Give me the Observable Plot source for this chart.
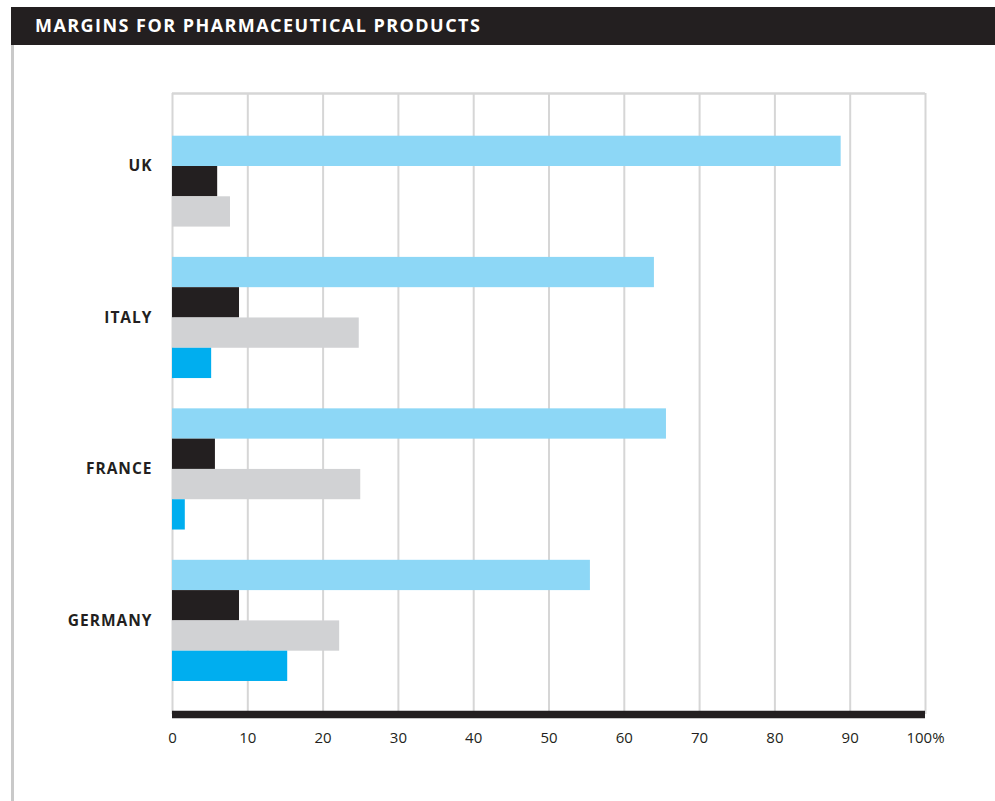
<!DOCTYPE html>
<html>
<head>
<meta charset="utf-8">
<script src="https://cdn.jsdelivr.net/npm/d3@7"></script>
<script src="https://cdn.jsdelivr.net/npm/@observablehq/plot@0.6"></script>
<style>
  html, body { margin: 0; padding: 0; background: #fff; }
  body { width: 995px; height: 801px; overflow: hidden; position: relative; font-family: "Open Sans", sans-serif; }
  #title {
    margin: 7px 0 0 11px; height: 38px; background: #231f20; color: #fff;
    font-family: "Open Sans", sans-serif; font-weight: 700; font-size: 18px; letter-spacing: 1.45px;
    line-height: 36px; padding-left: 24px; box-sizing: border-box; white-space: nowrap;
  }
  #chart { position: relative; width: 995px; height: 756px; }
  #leftline { position: absolute; left: 11px; top: 0; width: 3px; height: 756px; background: #c9c9c9; }
  #chart svg { position: absolute; left: 0; top: 0; }
  #chart svg .country-labels text { letter-spacing: 1px; }
</style>
</head>
<body>
<div id="title">MARGINS FOR PHARMACEUTICAL PRODUCTS</div>
<div id="chart"><div id="leftline"></div></div>
<script>
// ---- data ----
const countries = ["UK", "ITALY", "FRANCE", "GERMANY"];
const seriesNames = ["Series 1", "Series 2", "Series 3", "Series 4"];
const seriesColors = ["#8dd7f6", "#231f20", "#d1d2d4", "#00aeef"];
const series1 = [88.8, 64.0, 65.6, 55.5];
const series2 = [6.0, 8.9, 5.7, 8.9];
const series3 = [7.7, 24.8, 25.0, 22.2];
const series4 = [null, 5.2, 1.7, 15.3];
const xTicks = [0, 10, 20, 30, 40, 50, 60, 70, 80, 90, 100];

// ---- build rows: one slot per bar, one empty slot between countries ----
const allSeries = [series1, series2, series3, series4];
const rows = [];
const labels = [];
let slot = 0;
countries.forEach((c, i) => {
  allSeries.forEach((s, j) => {
    if (s[i] != null) {
      rows.push({country: c, series: seriesNames[j], value: s[i], slot});
      slot++;
    }
  });
  labels.push({country: c, pos: slot - 2});
  slot++;
});
const totalSlots = slot - 1;
const yTop = -1.41, yBottom = totalSlots + 1.09;

const chart = Plot.plot({
  width: 995,
  height: 756,
  marginLeft: 172,
  marginRight: 70,
  marginTop: 48,
  marginBottom: 87,
  style: {background: "transparent", fontFamily: "Open Sans, sans-serif"},
  x: {domain: [0, 100], axis: null, label: null},
  y: {domain: [yTop, yBottom], reverse: true, axis: null, label: null},
  color: {domain: seriesNames, range: seriesColors},
  marks: [
    Plot.ruleX(xTicks, {x: d => d, y1: yTop, y2: yBottom, stroke: "#d6d6d6", strokeWidth: 2}),
    Plot.ruleY([yTop], {x1: 0, x2: 100, stroke: "#d6d6d6", strokeWidth: 2.5}),
    Plot.rect(rows, {x1: 0, x2: "value", y1: "slot", y2: d => d.slot + 1, fill: "series"}),
    Plot.ruleY([yBottom], {x1: 0, x2: 100, stroke: "#231f20", strokeWidth: 7.7}),
    Plot.axisX(xTicks, {
      tickSize: 0, tickPadding: 18, fontSize: 15, fill: "#231f20", label: null,
      tickFormat: d => d === 100 ? "100%" : String(d)
    }),
    Plot.text(labels, {
      x: 0, y: "pos", text: "country", dx: -20, textAnchor: "end",
      fontWeight: "bold", fontSize: 15.5, fill: "#231f20", className: "country-labels"
    })
  ]
});
document.getElementById("chart").appendChild(chart);
</script>
</body>
</html>
